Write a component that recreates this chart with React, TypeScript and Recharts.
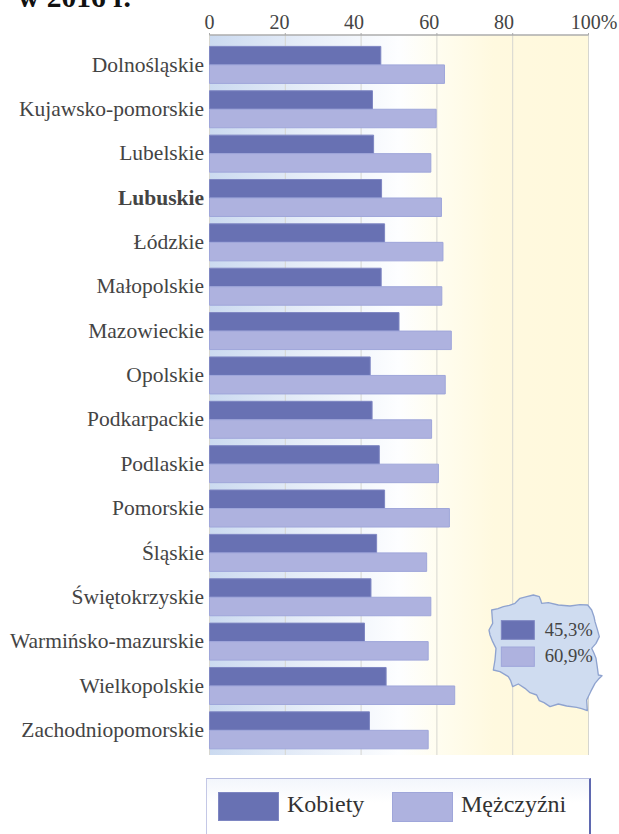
import { BarChart, Bar, CartesianGrid, XAxis, YAxis } from "recharts";

const FONT = '"Liberation Serif", serif';
const DARK = "#6871b3";
const LIGHT = "#aeb2df";
const TEXT = "#444444";

const regions = [
  "Dolnośląskie",
  "Kujawsko-pomorskie",
  "Lubelskie",
  "Lubuskie",
  "Łódzkie",
  "Małopolskie",
  "Mazowieckie",
  "Opolskie",
  "Podkarpackie",
  "Podlaskie",
  "Pomorskie",
  "Śląskie",
  "Świętokrzyskie",
  "Warmińsko-mazurskie",
  "Wielkopolskie",
  "Zachodniopomorskie",
];
const women = [45.2, 43, 43.3, 45.4, 46.2, 45.3, 50, 42.4, 42.9, 44.8, 46.2, 44.1, 42.6, 40.9, 46.6, 42.2];
const men = [62, 59.8, 58.4, 61.2, 61.6, 61.3, 63.8, 62.2, 58.6, 60.4, 63.3, 57.3, 58.4, 57.7, 64.7, 57.7];
const percentTicks = [0, 20, 40, 60, 80, 100];

const rows = regions.map((region, i) => ({ region, women: women[i], men: men[i] }));

// the printed tick labels don't sit centred over their gridlines
const tickLabelShift: Record<number, number> = { 0: 0, 20: -5.7, 40: -7, 60: -7.7, 80: -8.7, 100: 5.7 };

// outline of the Poland inset, in 3x inset coordinates
const polandOutline =
  "65,90 84,86 100,80 118,76 135,70 150,55 170,50 190,45 208,50 212,60 215,70 235,68 265,75 300,78 330,74 353,75 365,90 372,110 375,125 382,148 388,170 378,190 365,205 372,220 378,235 382,262 385,285 396,287 385,298 375,310 362,335 350,360 352,392 335,386 320,382 290,378 265,372 240,380 222,368 208,362 200,345 180,338 165,325 145,312 128,320 122,302 115,290 90,275 70,270 75,240 78,205 68,185 60,165 57,150 68,130";

function PercentTick({ x, payload }: any) {
  return (
    <text
      x={x + (tickLabelShift[payload.value] ?? 0)}
      y={29.3}
      textAnchor="middle"
      fontFamily={FONT}
      fontSize={20}
      fill={TEXT}
    >
      {payload.value === 100 ? "100%" : payload.value}
    </text>
  );
}

function RegionTick({ y, payload }: any) {
  return (
    <text
      x={204}
      y={y}
      dy={7}
      textAnchor="end"
      fontFamily={FONT}
      fontSize={21.5}
      fill={TEXT}
      fontWeight={payload.value === "Lubuskie" ? "bold" : "normal"}
    >
      {payload.value}
    </text>
  );
}

function PolandInset() {
  return (
    <svg
      viewBox="0 0 447 450"
      width={149}
      height={150}
      style={{ position: "absolute", left: 470, top: 580 }}
    >
      <polygon points={polandOutline} fill="#cfdcf0" stroke="#8fa3cf" strokeWidth={4} strokeLinejoin="round" />
      <rect x={94} y={122} width={99} height={56} fill={DARK} stroke="#7e86c2" strokeWidth={3} />
      <rect x={94} y={201} width={99} height={58} fill={LIGHT} stroke="#9fa6da" strokeWidth={3} />
      <text x={224} y={168} fontFamily={FONT} fontSize={56} fill={TEXT}>45,3%</text>
      <text x={224} y={246} fontFamily={FONT} fontSize={56} fill={TEXT}>60,9%</text>
    </svg>
  );
}

function SexLegend() {
  const label = { position: "absolute", top: 12, fontFamily: FONT, fontSize: 24, color: "#333" } as const;
  return (
    <div
      style={{
        position: "absolute",
        left: 206,
        top: 778,
        width: 385,
        height: 60,
        boxSizing: "border-box",
        borderTop: "1.5px solid #b8bde0",
        borderLeft: "1.5px solid #c4c8e6",
        borderRight: "2px solid #5f69b0",
        background: "linear-gradient(#f3f6fc, #ffffff 40%)",
      }}
    >
      <div style={{ position: "absolute", left: 11, top: 13, width: 61, height: 29, background: DARK, boxSizing: "border-box", border: "1px solid #7e86c2" }} />
      <span style={{ ...label, left: 80 }}>Kobiety</span>
      <div style={{ position: "absolute", left: 185, top: 13, width: 61, height: 30, background: LIGHT, boxSizing: "border-box", border: "1px solid #9fa6da" }} />
      <span style={{ ...label, left: 254 }}>Mężczyźni</span>
    </div>
  );
}

export default function App() {
  return (
    <div style={{ position: "absolute", left: 0, top: 0, width: 619, height: 834, overflow: "hidden", background: "#fff" }}>
      <div
        style={{
          position: "absolute",
          left: 18,
          top: -19,
          fontFamily: FONT,
          fontSize: 29.5,
          fontWeight: "bold",
          color: "#111",
          whiteSpace: "nowrap",
        }}
      >
        w 2016 r.
      </div>
      <BarChart
        width={619}
        height={834}
        data={rows}
        layout="vertical"
        barGap={0}
        barSize={18.5}
        margin={{ top: 0, right: 30.5, bottom: 79, left: 0 }}
      >
        <defs>
          <linearGradient id="plotBg" x1="0" y1="0" x2="1" y2="0">
            <stop offset="0" stopColor="#cbdaf0" />
            <stop offset="0.25" stopColor="#e6edf8" />
            <stop offset="0.5" stopColor="#fdfeff" />
            <stop offset="0.6" stopColor="#fffdf0" />
            <stop offset="0.75" stopColor="#fff9df" />
            <stop offset="1" stopColor="#fff9dc" />
          </linearGradient>
        </defs>
        <CartesianGrid horizontal={false} stroke="#d6d6d0" fill="url(#plotBg)" fillOpacity={1} />
        <XAxis
          type="number"
          orientation="top"
          domain={[0, 100]}
          ticks={percentTicks}
          height={35}
          tick={<PercentTick />}
          tickSize={2}
          axisLine={{ stroke: "#acacac", strokeWidth: 1.5 }}
          tickLine={{ stroke: "#acacac" }}
          interval={0}
        />
        <YAxis
          type="category"
          dataKey="region"
          width={209.5}
          padding={{ top: 7.4, bottom: 2.8 }}
          axisLine={false}
          tickLine={false}
          tick={<RegionTick />}
          interval={0}
        />
        <Bar dataKey="women" fill={DARK} stroke="#7e86c2" strokeWidth={1} isAnimationActive={false} />
        <Bar dataKey="men" fill={LIGHT} stroke="#9fa6da" strokeWidth={1} isAnimationActive={false} />
      </BarChart>
      <PolandInset />
      <SexLegend />
    </div>
  );
}
